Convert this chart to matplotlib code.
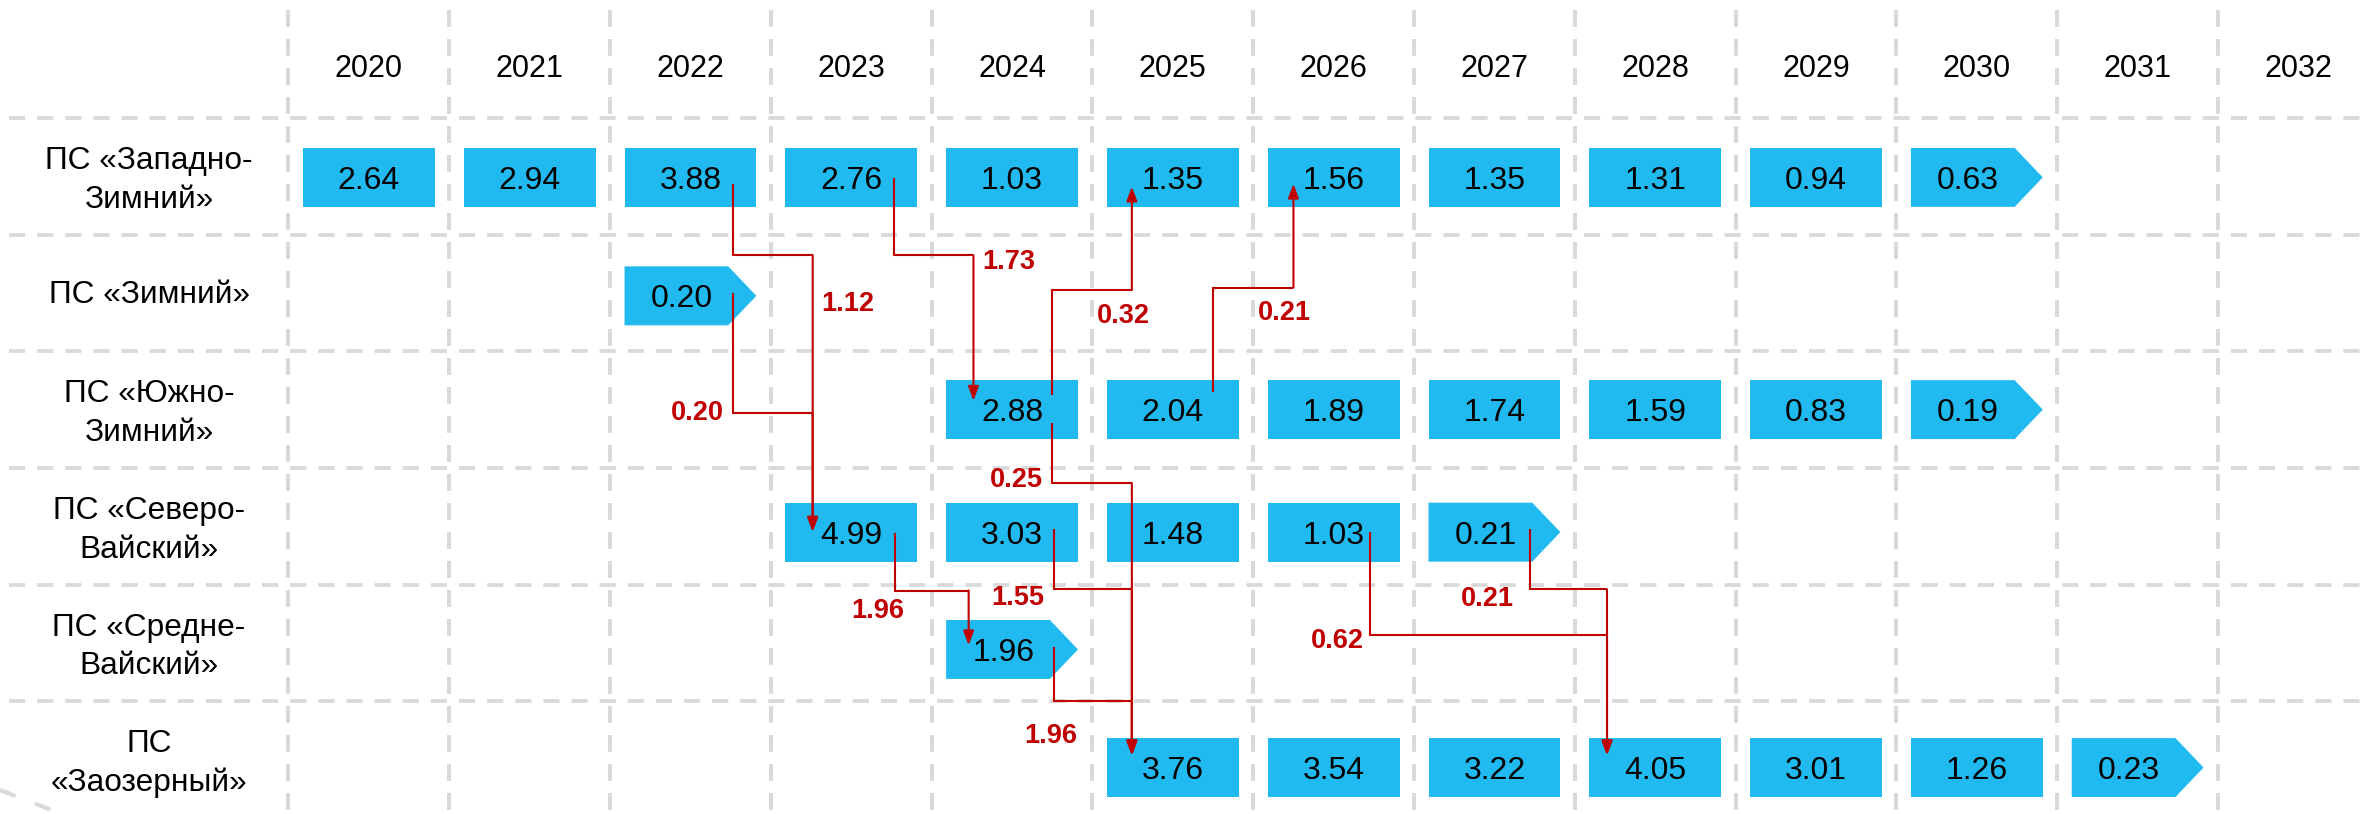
import matplotlib
matplotlib.use("Agg")
import matplotlib.pyplot as plt
from matplotlib.patches import Rectangle, Polygon

plt.rcParams['font.family'] = ['Liberation Sans', 'DejaVu Sans']

# ---------------- data ----------------
years = list(range(2020, 2033))
stations = ["ПС «Западно-\nЗимний»", "ПС «Зимний»", "ПС «Южно-\nЗимний»",
            "ПС «Северо-\nВайский»", "ПС «Средне-\nВайский»", "ПС\n«Заозерный»"]
start_years = [2020, 2022, 2024, 2023, 2024, 2025]
zapadno_zimny = [2.64, 2.94, 3.88, 2.76, 1.03, 1.35, 1.56, 1.35, 1.31, 0.94, 0.63]
zimny = [0.20]
yuzhno_zimny = [2.88, 2.04, 1.89, 1.74, 1.59, 0.83, 0.19]
severo_vaysky = [4.99, 3.03, 1.48, 1.03, 0.21]
sredne_vaysky = [1.96]
zaozerny = [3.76, 3.54, 3.22, 4.05, 3.01, 1.26, 0.23]
series = [zapadno_zimny, zimny, yuzhno_zimny, severo_vaysky, sredne_vaysky, zaozerny]

# transfers between substations
flow_src_row = [0, 1, 0, 2, 2, 2, 3, 3, 4, 3, 3]
flow_src_year = [2022, 2022, 2023, 2024, 2025, 2024, 2024, 2023, 2024, 2026, 2027]
flow_dst_row = [3, 3, 2, 0, 0, 5, 5, 4, 5, 5, 5]
flow_dst_year = [2023, 2023, 2024, 2025, 2026, 2025, 2025, 2024, 2025, 2028, 2028]
flow_values = [1.12, 0.20, 1.73, 0.32, 0.21, 0.25, 1.55, 1.96, 1.96, 0.62, 0.21]

# ---------------- layout / style ----------------
BOX_C = '#21BAF0'
GRID_C = '#d9d9d9'
RED = '#C00000'
W, H, BODY = 0.82, 0.505, 0.645
row_box_dy = [0.01, 0.025, 0.0, 0.05, 0.055, 0.067]

flow_src_dx = [0.262, 0.262, 0.266, 0.25, 0.25, 0.25, 0.26, 0.275, 0.26, 0.225, 0.22]
flow_dst_dx = [-0.24, -0.24, -0.24, -0.255, -0.25, -0.255, -0.255, -0.27, -0.255, -0.30, -0.30]
flow_start_y = [0.065, 1.0, 0.013, 1.871, 1.845, 2.116, 3.026, 3.058, 4.032, 3.045, 3.026]
flow_bend_y = [0.677, 2.03, 0.677, 0.975, 0.955, 2.63, 3.54, 3.55, 4.50, 3.93, 3.54]
flow_tip_y = [3.045, 3.045, 1.923, 0.09, 0.065, 4.961, 4.961, 4.019, 4.961, 4.961, 4.961]
flow_lab_dx = [0.716, -0.221, 0.713, 0.441, 0.443, -0.224, -0.224, -0.11, -0.018, -0.204, -0.263]
flow_lab_dy = [0.394, -0.03, 0.033, 0.199, 0.193, -0.05, 0.047, 0.153, 0.274, 0.031, 0.06]

fig = plt.figure(figsize=(23.61, 8.14), dpi=100)
ax = fig.add_axes([0, 0, 1, 1])
ax.set_xlim(2017.706, 2032.389)
ax.set_ylim(5.465, -1.510)
ax.axis('off')

# grid
for k in range(len(years)):
    x = years[k] - 0.5
    ax.plot([x, x], [-1.424, 5.6], color=GRID_C, lw=2.9, ls=(0, (4.2, 3.0)), zorder=1)
for r in range(-1, len(stations) - 1):
    y = r + 0.5
    ax.plot([2017.76, 2032.5], [y, y], color=GRID_C, lw=2.7, ls=(0, (4.3, 3.2)), zorder=1)

# decorative arc fragment bottom-left
ax.plot([0, 62 / 2361], [1 - 790 / 814, 0], transform=fig.transFigure,
        color=GRID_C, lw=3.0, ls=(0, (4, 5)), zorder=1)

# year headers
for y in years:
    ax.text(y, -0.953, str(y), ha='center', va='center_baseline', fontsize=22, zorder=4)

# station labels
for r, name in enumerate(stations):
    lines = name.split('\n')
    if len(lines) == 1:
        ax.text(2018.633, r - 0.008, lines[0], ha='center', va='center_baseline',
                fontsize=22.8, zorder=4)
    else:
        ax.text(2018.633, r - 0.163, lines[0], ha='center', va='center_baseline',
                fontsize=22.8, zorder=4)
        ax.text(2018.633, r + 0.170, lines[1], ha='center', va='center_baseline',
                fontsize=22.8, zorder=4)

# boxes
for r, vals in enumerate(series):
    yc = r + row_box_dy[r]
    for j, v in enumerate(vals):
        yr = start_years[r] + j
        left = yr - W / 2
        if j == len(vals) - 1:
            poly = Polygon([(left, yc - H / 2), (left + BODY, yc - H / 2), (left + W, yc),
                            (left + BODY, yc + H / 2), (left, yc + H / 2)],
                           closed=True, facecolor=BOX_C, edgecolor='none', zorder=2)
            ax.add_patch(poly)
            tx = left + 0.355
        else:
            ax.add_patch(Rectangle((left, yc - H / 2), W, H, facecolor=BOX_C,
                                   edgecolor='none', zorder=2))
            tx = yr
        ax.text(tx, yc, f"{v:.2f}", ha='center', va='center_baseline', fontsize=23, zorder=4)

# transfer connectors
for i in range(len(flow_values)):
    sx = flow_src_year[i] + flow_src_dx[i]
    dx = flow_dst_year[i] + flow_dst_dx[i]
    y0, yb, yt = flow_start_y[i], flow_bend_y[i], flow_tip_y[i]
    ax.plot([sx, sx, dx], [y0, yb, yb], color=RED, lw=1.5, zorder=3,
            solid_joinstyle='miter', solid_capstyle='butt')
    ax.annotate('', xy=(dx, yt), xytext=(dx, yb),
                arrowprops=dict(arrowstyle='-|>,head_length=0.85,head_width=0.32',
                                mutation_scale=10, color=RED, lw=1.5,
                                shrinkA=0, shrinkB=0), zorder=3)
    ax.text(sx + flow_lab_dx[i], yb + flow_lab_dy[i], f"{flow_values[i]:.2f}",
            color=RED, fontsize=19.5, fontweight='bold', ha='center',
            va='center_baseline', zorder=4)

fig.savefig('out.png', dpi=100, facecolor='white')
